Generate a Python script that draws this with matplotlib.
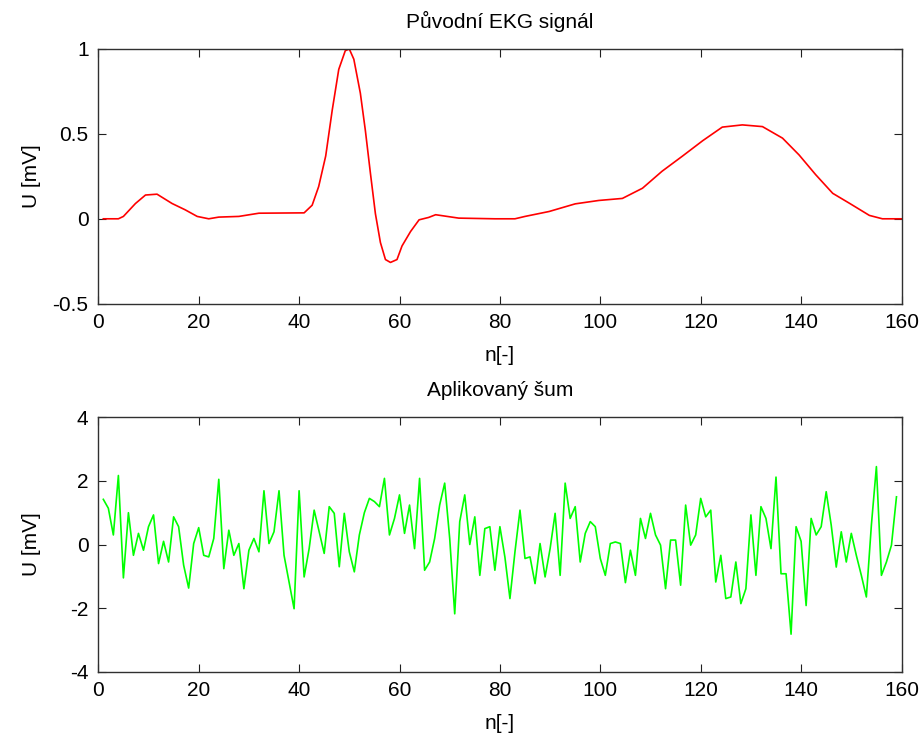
import matplotlib
matplotlib.use("Agg")
import matplotlib.pyplot as plt
import numpy as np

# ---- data ----
ekg_n = [1, 4, 5, 7.4, 9.4, 11.7, 14.7, 17.3, 19.7, 22, 24, 28, 32, 41, 42.6, 43.9,
         45.3, 46.6, 47.9, 49.2, 50, 50.9, 52.2, 53.2, 54.2, 55.2, 56.2, 57.2, 58.2,
         59.5, 60.5, 62.2, 63.9, 65.8, 67.2, 71.8, 79, 83, 85, 89.8, 95, 99.7, 104.4,
         108.4, 112.3, 116.4, 120.4, 124.3, 128.3, 132.3, 136.3, 139.6, 142.9, 146.3,
         149.6, 153.6, 156.2, 160]
ekg_u = [0, 0, 0.014, 0.09, 0.14, 0.145, 0.09, 0.053, 0.014, 0, 0.01, 0.014, 0.033,
         0.035, 0.08, 0.19, 0.37, 0.64, 0.88, 0.99, 1.0, 0.94, 0.74, 0.52, 0.27, 0.03,
         -0.14, -0.24, -0.257, -0.24, -0.16, -0.075, -0.006, 0.008, 0.024, 0.004, 0, 0,
         0.014, 0.043, 0.088, 0.108, 0.12, 0.18, 0.28, 0.37, 0.46, 0.54, 0.553, 0.543,
         0.475, 0.376, 0.26, 0.15, 0.092, 0.02, 0, 0]

noise_u = [1.42, 1.14, 0.3, 2.17, -1.05, 1.0, -0.34, 0.35, -0.18, 0.56,
           0.93, -0.6, 0.1, -0.55, 0.87, 0.56, -0.65, -1.37, 0.03, 0.53,
           -0.34, -0.39, 0.19, 2.05, -0.76, 0.45, -0.34, 0.03, -1.39, -0.18,
           0.19, -0.23, 1.69, 0.03, 0.4, 1.69, -0.34, -1.18, -2.02, 1.69,
           -1.02, -0.13, 1.08, 0.4, -0.28, 1.19, 0.98, -0.7, 0.98, -0.23,
           -0.86, 0.3, 1.0, 1.45, 1.35, 1.19, 2.08, 0.3, 0.82, 1.56,
           0.35, 1.24, -0.13, 2.08, -0.81, -0.55, 0.19, 1.24, 1.93, 0.19,
           -2.18, 0.72, 1.56, 0.0, 0.87, -0.97, 0.5, 0.56, -0.81, 0.56,
           -0.4, -1.7, -0.23, 1.08, -0.44, -0.39, -1.23, 0.03, -1.02, -0.13,
           0.98, -0.97, 1.93, 0.82, 1.19, -0.55, 0.35, 0.72, 0.56, -0.44,
           -0.97, 0.03, 0.08, 0.03, -1.2, -0.18, -0.97, 0.82, 0.19, 0.98,
           0.3, -0.02, -1.39, 0.14, 0.14, -1.28, 1.24, -0.02, 0.3, 1.45,
           0.87, 1.08, -1.18, -0.34, -1.7, -1.65, -0.55, -1.86, -1.39, 0.93,
           -0.97, 1.19, 0.82, -0.13, 2.12, -0.92, -0.92, -2.82, 0.56, 0.1,
           -1.92, 0.82, 0.3, 0.56, 1.66, 0.61, -0.71, 0.4, -0.55, 0.35,
           -0.34, -0.97, -1.65, 0.61, 2.45, -0.97, -0.55, -0.02, 1.5]
noise_n = list(range(1, len(noise_u) + 1))

x_ticks = [0, 20, 40, 60, 80, 100, 120, 140, 160]
top_yticks = [-0.5, 0, 0.5, 1]
top_yticklabels = ["-0.5", "0", "0.5", "1"]
bot_yticks = [-4, -2, 0, 2, 4]

titles = ["Původní EKG signál", "Aplikovaný šum"]
xlabel = "n[-]"
ylabel = "U [mV]"

plt.rcParams['font.family'] = ['Liberation Sans', 'DejaVu Sans']
FS = 15

fig = plt.figure(figsize=(9.23, 7.40), dpi=100)
ax1 = fig.add_axes([98.3 / 923, 1 - 303.7 / 740, 803.2 / 923, 254.7 / 740])
ax2 = fig.add_axes([98.3 / 923, 1 - 671.7 / 740, 803.2 / 923, 254.4 / 740])

ax1.plot(ekg_n, ekg_u, color='#ff0000', lw=1.2)
ax2.plot(noise_n, noise_u, color='#00ff00', lw=1.2)

for ax, title in zip((ax1, ax2), titles):
    ax.set_xlim(0, 160)
    ax.set_xticks(x_ticks)
    ax.set_xticklabels([str(t) for t in x_ticks])
    ax.tick_params(direction='in', length=6, width=0.8, top=True, right=True,
                   labelsize=FS, pad=7, colors='#202020', labelcolor='black')
    for s in ax.spines.values():
        s.set_color('#303030')
        s.set_linewidth(1.0)
    ax.set_title(title, fontsize=FS, pad=15)
    ax.set_xlabel(xlabel, fontsize=FS, labelpad=10)
    ax.set_ylabel(ylabel, fontsize=FS)
    ax.yaxis.set_label_coords(-0.071, 0.5)

ax1.set_ylim(-0.5, 1)
ax1.set_yticks(top_yticks)
ax1.set_yticklabels(top_yticklabels)
ax2.set_ylim(-4, 4)
ax2.set_yticks(bot_yticks)
ax2.set_yticklabels([str(t) for t in bot_yticks])

fig.savefig("out.png", dpi=100, facecolor='white')
